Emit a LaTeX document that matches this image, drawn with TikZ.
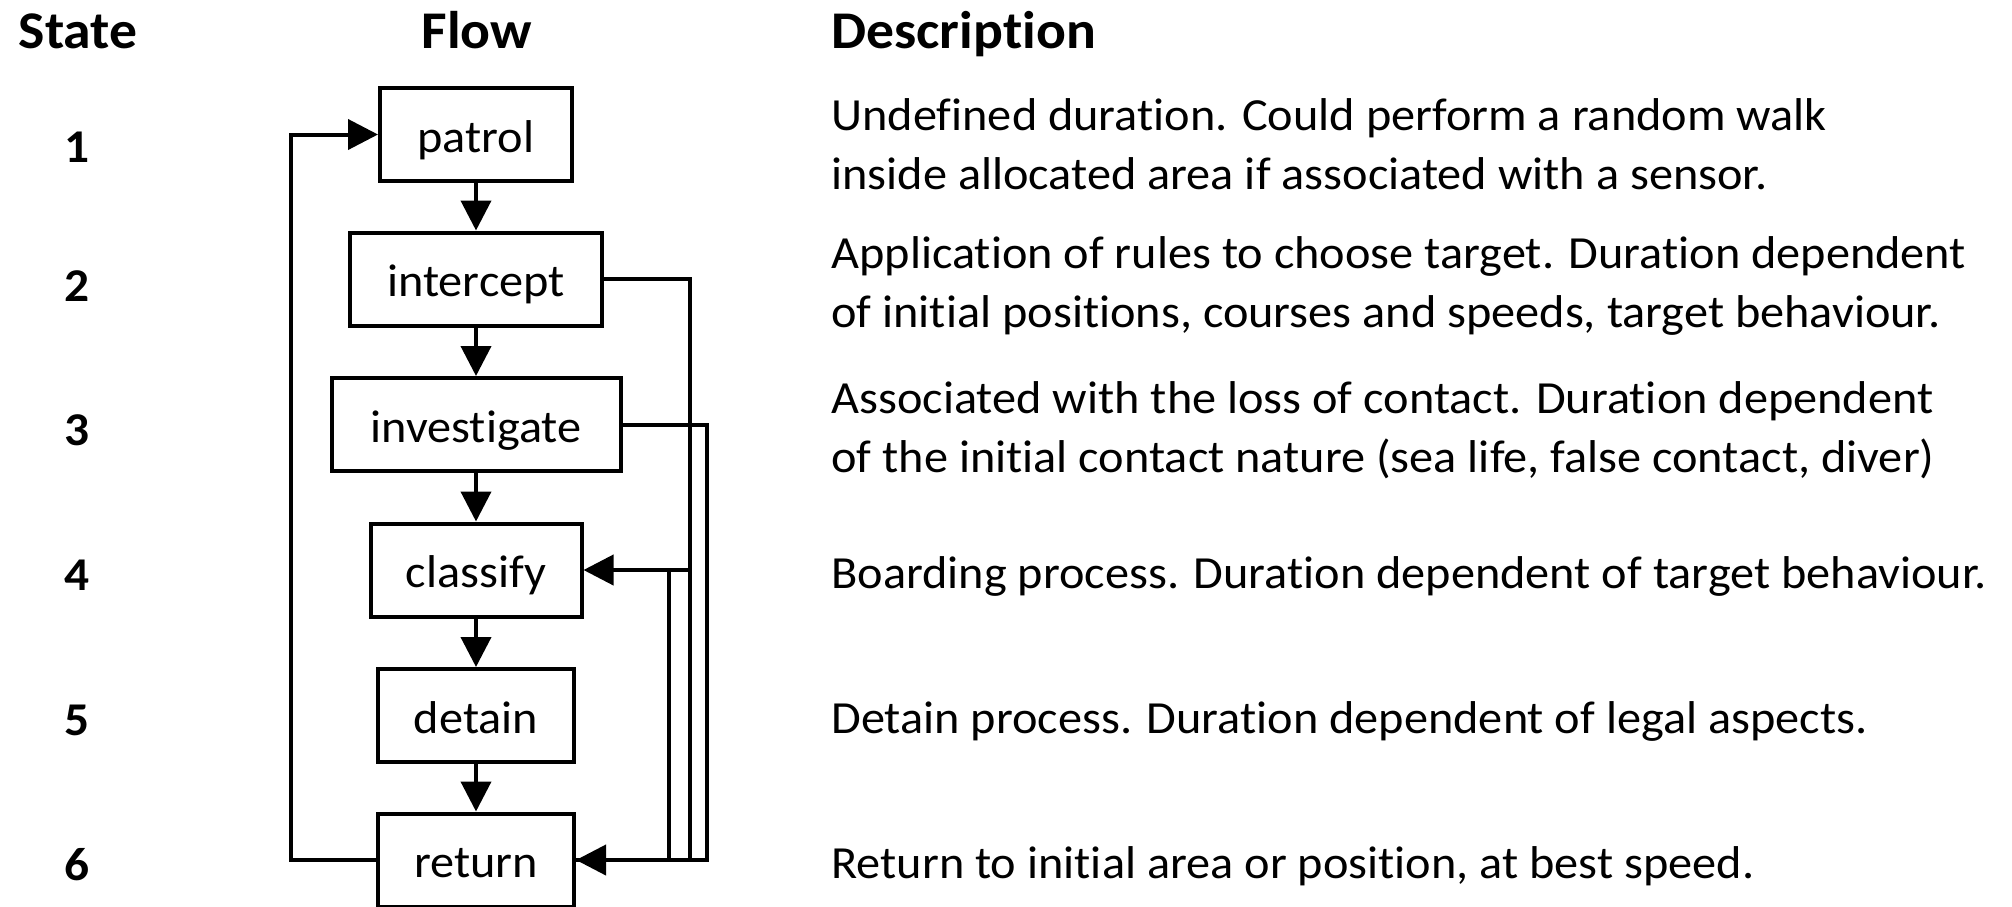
\documentclass[tikz,border=0pt]{standalone}
\usepackage{fontspec}
\setmainfont{Carlito}[FakeStretch=1.05,Ligatures=NoCommon]
\usetikzlibrary{arrows.meta}

\begin{document}
\begin{tikzpicture}[
		x=0.5pt,y=-0.5pt,
		hdr/.style={anchor=base,inner sep=0pt,font=\fontsize{26.5}{32}\selectfont\bfseries},
		num/.style={anchor=base,inner sep=0pt,font=\fontsize{23.5}{29}\selectfont\bfseries},
		stbox/.style={draw,line width=2pt,minimum height=46.5pt,inner sep=0pt,text height=19.5pt,text depth=2pt,font=\fontsize{23}{29}\selectfont},
		desc/.style={anchor=base west,align=left,inner sep=0pt,font=\fontsize{23}{29.5}\selectfont},
		flowarr/.style={line width=2pt,-{Triangle[length=15pt,width=15pt]}},
		flowline/.style={line width=2pt},
	]
	\useasboundingbox (0,0) rectangle (2012,906);
	\clip (0,0) rectangle (2012,906);

	\node[hdr] (hstate) at (78,48) {State};
	\node[hdr] (hflow) at (477,48) {Flow};
	\node[hdr,anchor=base west] (hdesc) at (831,48) {Description};

	\node[num] (s1) at (77.5,162) {1};
	\node[num] (s2) at (77.5,301) {2};
	\node[num] (s3) at (77.5,445) {3};
	\node[num] (s4) at (77.5,590) {4};
	\node[num] (s5) at (77.5,735) {5};
	\node[num] (s6) at (77.5,880) {6};

	\node[stbox,minimum width=96pt] (patrol) at (476,134.5) {patrol};
	\node[stbox,minimum width=126pt] (intercept) at (476,279) {intercept};
	\node[stbox,minimum width=144.5pt] (investigate) at (476,424.5) {investigate};
	\node[stbox,minimum width=105.5pt] (classify) at (476,570) {classify};
	\node[stbox,minimum width=98pt] (detain) at (476,715.5) {detain};
	\node[stbox,minimum width=98pt] (return) at (476,860) {return};

	\node[desc] (d1) at (831,189) {Undefined duration. Could perform a random walk\\inside allocated area if associated with a sensor.};
	\node[desc] (d2) at (831,327) {Application of rules to choose target. Duration dependent\\of initial positions, courses and speeds, target behaviour.};
	\node[desc] (d3) at (831,472) {Associated with the loss of contact. Duration dependent\\of the initial contact nature (sea life, false contact, diver)};
	\node[desc] (d4) at (831,588) {Boarding process. Duration dependent of target behaviour.};
	\node[desc] (d5) at (831,733) {Detain process. Duration dependent of legal aspects.};
	\node[desc] (d6) at (831,878) {Return to initial area or position, at best speed.};

	\coordinate (loopx) at (291,0);
	\coordinate (busa) at (669,0);
	\coordinate (busb) at (690,0);
	\coordinate (busc) at (707,0);

	\draw[flowarr] (patrol) -- (intercept);
	\draw[flowarr] (intercept) -- (investigate);
	\draw[flowarr] (investigate) -- (classify);
	\draw[flowarr] (classify) -- (detain);
	\draw[flowarr] (detain) -- (return);

	\draw[flowarr] (return.west) -| (loopx |- patrol.west) -- (patrol.west);
	\draw[flowarr] (intercept.east) -| (busb |- classify.east) -- (classify.east);
	\draw[flowline] (busb |- classify.east) |- (return.east);
	\draw[flowline] (busa |- classify.east) |- (return.east);
	\draw[flowarr] (investigate.east) -| (busc |- return.east) -- (return.east);
\end{tikzpicture}
\end{document}
